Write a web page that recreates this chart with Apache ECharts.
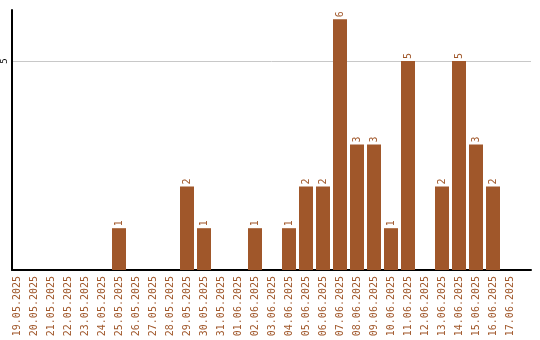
<!DOCTYPE html>
<html><head><meta charset="utf-8">
<script src="https://cdn.jsdelivr.net/npm/echarts@6/dist/echarts.min.js"></script>
<style>html,body{margin:0;padding:0;background:#fff}#c{width:540px;height:340px}</style>
</head><body><div id="c"></div>
<script>
const categories = ['19.05.2025','20.05.2025','21.05.2025','22.05.2025','23.05.2025','24.05.2025','25.05.2025','26.05.2025','27.05.2025','28.05.2025','29.05.2025','30.05.2025','31.05.2025','01.06.2025','02.06.2025','03.06.2025','04.06.2025','05.06.2025','06.06.2025','07.06.2025','08.06.2025','09.06.2025','10.06.2025','11.06.2025','12.06.2025','13.06.2025','14.06.2025','15.06.2025','16.06.2025','17.06.2025'];
const values = [0,0,0,0,0,0,1,0,0,0,2,1,0,0,1,0,1,2,2,6,3,3,1,5,0,2,5,3,2,0];
const yTicks = [5];
const color = '#A0572A';
const font = 'DejaVu Sans Mono';
const yMax = 6.22;
const chart = echarts.init(document.getElementById('c'));
chart.setOption({
  animation: false,
  grid: [
    {left: 11, right: 9, top: 10, bottom: 70, containLabel: false},
    {left: 8.5, width: 510, top: 10, bottom: 70, containLabel: false}
  ],
  xAxis: [{
    gridIndex: 0, type: 'value', min: 0, max: 1,
    axisLine: {show: true, lineStyle: {color: '#000', width: 2}},
    axisTick: {show: false}, axisLabel: {show: false}, splitLine: {show: false}
  }, {
    gridIndex: 1, type: 'category', data: categories,
    axisLine: {show: false},
    axisTick: {show: false},
    axisLabel: {rotate: 90, color: color, fontFamily: font, fontSize: 10, interval: 0, margin: 6}
  }],
  yAxis: [{
    gridIndex: 0, type: 'value', min: 0, max: yMax, interval: 5,
    axisLine: {show: true, lineStyle: {color: '#000', width: 2}},
    axisTick: {show: false},
    splitLine: {show: true, showMinLine: false, showMaxLine: false, lineStyle: {color: '#c8c8c8', width: 1}},
    axisLabel: {rotate: 90, color: '#000', fontFamily: font, fontSize: 9, margin: 3, showMaxLabel: false,
      formatter: v => yTicks.includes(v) ? String(v) : ''}
  }, {
    gridIndex: 1, type: 'value', min: 0, max: yMax, show: false
  }],
  series: [{
    type: 'bar', data: values, barWidth: 14, xAxisIndex: 1, yAxisIndex: 1,
    itemStyle: {color: color},
    label: {show: true, position: 'top', rotate: 90, align: 'left', verticalAlign: 'middle', distance: 2,
      color: color, fontFamily: font, fontSize: 10,
      formatter: p => p.value ? String(p.value) : ''}
  }]
});
</script></body></html>
